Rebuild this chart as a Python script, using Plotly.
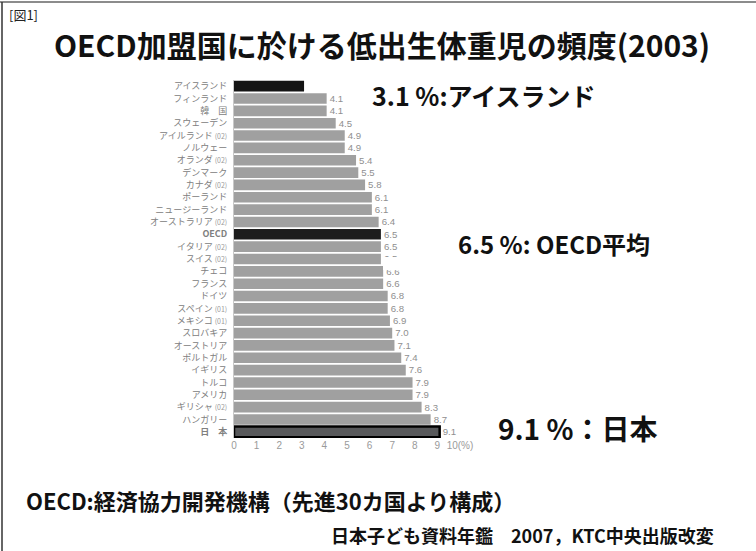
import plotly.graph_objects as go

# Low birth weight frequency by OECD member country, 2003 (%)
countries = [
    "アイスランド", "フィンランド", "韓　国", "スウェーデン", "アイルランド (02)",
    "ノルウェー", "オランダ (02)", "デンマーク", "カナダ (02)", "ポーランド",
    "ニュージーランド", "オーストラリア (02)", "OECD", "イタリア (02)", "スイス (02)",
    "チェコ", "フランス", "ドイツ", "スペイン (01)", "メキシコ (01)",
    "スロバキア", "オーストリア", "ポルトガル", "イギリス", "トルコ",
    "アメリカ", "ギリシャ (02)", "ハンガリー", "日　本",
]
rates = [
    3.1, 4.1, 4.1, 4.5, 4.9,
    4.9, 5.4, 5.5, 5.8, 6.1,
    6.1, 6.4, 6.5, 6.5, 6.5,
    6.6, 6.6, 6.8, 6.8, 6.9,
    7.0, 7.1, 7.4, 7.6, 7.9,
    7.9, 8.3, 8.7, 9.1,
]
x_ticks = [0, 1, 2, 3, 4, 5, 6, 7, 8, 9, 10]
x_tick_text = ["0", "1", "2", "3", "4", "5", "6", "7", "8", "9", "10(%)"]

W, H = 756, 551
L, R, T, B = 234, 460, 80, 438  # plot area in pixels


def px(x):
    return (x - L) / (R - L)


def py(y):
    return (B - y) / (B - T)


bar_colors = []
line_colors = []
line_widths = []
labels = []
for c, v in zip(countries, rates):
    if c == "アイスランド":
        bar_colors.append("#141414")
        labels.append("")
    elif c == "OECD":
        bar_colors.append("#1c1c1c")
        labels.append(f"{v:.1f}")
    elif c == "日　本":
        bar_colors.append("#58595b")
        labels.append(f"{v:.1f}")
    else:
        bar_colors.append("#a0a0a0")
        labels.append(f"{v:.1f}")
    if c == "日　本":
        line_colors.append("#000000")
        line_widths.append(2.5)
    else:
        line_colors.append("rgba(0,0,0,0)")
        line_widths.append(0)

tick_text = []
for c in countries:
    if c in ("OECD", "日　本"):
        tick_text.append(f"<b>{c}</b>")
    elif " (" in c:
        name, yr = c.split(" ")
        tick_text.append(f"{name} <span style='font-size:7px;color:#9a9a9a'>{yr}</span>")
    else:
        tick_text.append(c)

fig = go.Figure(
    go.Bar(
        x=rates,
        y=countries,
        orientation="h",
        marker=dict(color=bar_colors, line=dict(color=line_colors, width=line_widths)),
        text=labels,
        textposition="outside",
        textfont=dict(family="Liberation Sans", size=10, color="#8f8f8f"),
        cliponaxis=False,
        hoverinfo="x+y",
    )
)

fig.update_layout(
    width=W,
    height=H,
    margin=dict(l=L, r=W - R, t=T, b=H - B),
    paper_bgcolor="white",
    plot_bgcolor="white",
    bargap=0.14,
    showlegend=False,
    font=dict(family="Noto Sans CJK JP"),
    xaxis=dict(
        range=[0, 10],
        tickvals=x_ticks,
        ticktext=x_tick_text,
        tickfont=dict(family="Liberation Sans", size=10, color="#9a9a9a"),
        showgrid=False,
        zeroline=False,
        showline=False,
        ticks="",
        fixedrange=True,
    ),
    yaxis=dict(
        categoryorder="array",
        categoryarray=countries,
        autorange="reversed",
        tickvals=countries,
        ticktext=tick_text,
        tickfont=dict(family="Noto Sans CJK JP", size=9, color="#808080"),
        showgrid=False,
        zeroline=False,
        showline=True,
        linecolor="#c8c8c8",
        linewidth=1,
        ticks="",
        ticklabelstandoff=4,
        fixedrange=True,
    ),
)

shapes = [
    # frame lines
    dict(type="line", xref="paper", yref="paper", x0=px(0), x1=px(W), y0=py(2), y1=py(2),
         line=dict(color="#8c8c8c", width=2)),
    dict(type="line", xref="paper", yref="paper", x0=px(2), x1=px(2), y0=py(2), y1=py(H),
         line=dict(color="#333333", width=1.5)),
    # white patch over the Swiss value label
    dict(type="rect", xref="paper", yref="paper", x0=px(383), x1=px(450), y0=py(270), y1=py(257),
         fillcolor="white", line=dict(width=0), layer="above"),
]
fig.update_layout(shapes=shapes)

annotations = [
    dict(text="[図1]", x=px(7), y=py(15), xanchor="left", yanchor="middle",
         font=dict(family="Noto Sans CJK JP", size=13, color="#222222")),
    dict(text="<b>OECD加盟国に於ける低出生体重児の頻度(2003)</b>", x=px(52), y=py(44),
         xanchor="left", yanchor="middle",
         font=dict(family="Noto Sans CJK JP", size=30, color="#111111")),
    dict(text="<b>3.1 %:アイスランド</b>", x=px(370), y=py(95), xanchor="left", yanchor="middle",
         font=dict(family="Noto Sans CJK JP", size=25, color="#111111")),
    dict(text="<b>6.5 %: OECD平均</b>", x=px(456), y=py(243), xanchor="left", yanchor="middle",
         font=dict(family="Noto Sans CJK JP", size=24, color="#111111")),
    dict(text="<b>9.1 %：日本</b>", x=px(496), y=py(428), xanchor="left", yanchor="middle",
         font=dict(family="Noto Sans CJK JP", size=28, color="#111111")),
    dict(text="<b>OECD:経済協力開発機構（先進30カ国より構成）</b>", x=px(24), y=py(500),
         xanchor="left", yanchor="middle",
         font=dict(family="Noto Sans CJK JP", size=22, color="#111111")),
    dict(text="<b>日本子ども資料年鑑　2007，KTC中央出版改変</b>", x=px(716), y=py(535),
         xanchor="right", yanchor="middle",
         font=dict(family="Noto Sans CJK JP", size=18, color="#111111")),
]
for a in annotations:
    a.update(xref="paper", yref="paper", showarrow=False)
fig.update_layout(annotations=annotations)

fig.write_html("out.html")
